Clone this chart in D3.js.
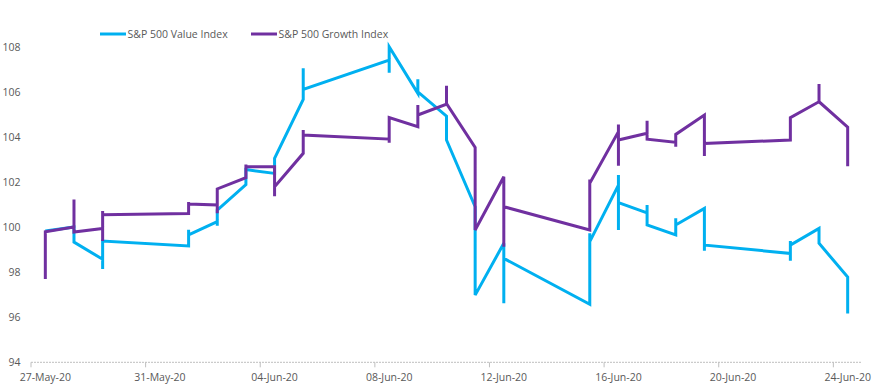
<!DOCTYPE html>
<html>
<head>
<meta charset="utf-8">
<script src="https://cdn.jsdelivr.net/npm/d3@7"></script>
<style>
  html, body { margin: 0; padding: 0; background: #fff; }
  svg { display: block; }
  text { font-family: "Open Sans", "Noto Sans", sans-serif; fill: #595959; }
</style>
</head>
<body>
<svg id="chart" width="883" height="391"></svg>
<script>
// ---- data (several intraday readings share one date) ----
const dates = ["2020-05-27","2020-05-28","2020-05-29","2020-06-01","2020-06-02","2020-06-03","2020-06-04",
  "2020-06-05","2020-06-08","2020-06-09","2020-06-10","2020-06-11","2020-06-12","2020-06-15","2020-06-16",
  "2020-06-17","2020-06-18","2020-06-19","2020-06-22","2020-06-23","2020-06-24"];

const valueIndex = [
  [99.82], [100.0, 99.33], [98.57, 98.14, 99.38], [99.16, 99.88, 99.65], [100.24, 100.06, 100.75],
  [101.88, 102.55], [102.38, 103.05], [105.66, 107.04, 106.11], [107.41, 106.84, 108.0],
  [105.93, 106.56, 106.0], [104.92, 103.86], [100.9, 96.98], [99.28, 96.62, 98.61],
  [96.57, 99.72, 99.35], [101.86, 102.31, 99.87, 101.08], [100.63, 100.98, 100.09],
  [99.65, 100.39, 100.09], [100.83, 98.95, 99.2], [98.83, 98.51, 99.38, 99.2],
  [99.94, 99.28], [97.78, 96.17]
];

const growthIndex = [
  [97.69, 99.79], [100.0, 101.22, 99.78], [99.94, 99.38, 100.71, 100.55], [100.6, 101.11, 101.02],
  [100.98, 100.61, 101.69], [102.19, 102.77, 102.67], [102.67, 101.37, 101.79],
  [103.27, 104.3, 104.08], [103.9, 103.74, 104.86], [104.45, 105.41, 104.97],
  [105.45, 106.27, 105.48], [103.53, 99.87], [102.23, 99.13, 100.9],
  [99.87, 102.11, 101.94], [104.23, 104.55, 102.72, 103.86], [104.16, 104.71, 103.9],
  [103.76, 103.56, 104.11], [104.97, 103.15, 103.71], [103.86, 104.85],
  [105.56, 106.34, 105.56], [104.43, 102.7]
];

const seriesNames = ["S&P 500 Value Index", "S&P 500 Growth Index"];
const seriesColors = ["#00B0F0", "#7030A0"];
const yTicks = [94, 96, 98, 100, 102, 104, 106, 108];
const xTickDates = ["2020-05-27","2020-05-31","2020-06-04","2020-06-08","2020-06-12","2020-06-16","2020-06-20","2020-06-24"];
const axisStart = "2020-05-27", axisEnd = "2020-06-25";

// ---- chart ----
const FS = 10.5;
const parse = d3.utcParse("%Y-%m-%d");
const fmt = d3.utcFormat("%d-%b-%y");
const halfDay = 12 * 3600 * 1000;

const svg = d3.select("#chart");
const x = d3.scaleUtc().domain([parse(axisStart), parse(axisEnd)]).range([31, 862]);
const y = d3.scaleLinear().domain([94, 108]).range([362.3, 46.7]);

// y axis labels (no line)
const yAxis = d3.axisLeft(y).tickValues(yTicks).tickSize(0).tickPadding(0).tickFormat(d3.format("d"));
svg.append("g").attr("transform", "translate(20.5,0)").call(yAxis)
  .call(g => g.select(".domain").remove())
  .call(g => g.selectAll("text").attr("font-size", FS).style("font-family", "'Open Sans', sans-serif").attr("fill", "#595959"));

// x axis line + tick marks at day boundaries
const xg = svg.append("g");
xg.append("line").attr("x1", x.range()[0]).attr("x2", x.range()[1])
  .attr("y1", y(94)).attr("y2", y(94))
  .attr("stroke", "#bfbfbf").attr("stroke-width", 1).attr("stroke-dasharray", "2,1");
xg.selectAll("line.tk").data(xTickDates).join("line").attr("class", "tk")
  .attr("x1", d => x(parse(d))).attr("x2", d => x(parse(d)))
  .attr("y1", y(94)).attr("y2", y(94) + 5)
  .attr("stroke", "#bfbfbf").attr("stroke-width", 1);
xg.selectAll("text.tl").data(xTickDates).join("text").attr("class", "tl")
  .attr("x", d => x(new Date(+parse(d) + halfDay)))
  .attr("y", 377).attr("dy", "0.35em")
  .attr("text-anchor", "middle").attr("font-size", FS)
  .text(d => fmt(parse(d)));

// lines
function flatten(vals) {
  const pts = [];
  vals.forEach((arr, i) => {
    const t = new Date(+parse(dates[i]) + halfDay);
    arr.forEach(v => pts.push({ t, v }));
  });
  return pts;
}
const line = d3.line().x(d => x(d.t)).y(d => y(d.v));
[valueIndex, growthIndex].forEach((vals, k) => {
  svg.append("path").datum(flatten(vals))
    .attr("fill", "none").attr("stroke", seriesColors[k]).attr("stroke-width", 3)
    .attr("stroke-linejoin", "miter").attr("stroke-miterlimit", 4)
    .attr("d", line);
});

// legend
const legendX = [100, 251];
seriesNames.forEach((name, k) => {
  const g = svg.append("g").attr("transform", `translate(${legendX[k]},34)`);
  g.append("line").attr("x1", 0).attr("x2", 26).attr("y1", 0).attr("y2", 0)
    .attr("stroke", seriesColors[k]).attr("stroke-width", 3);
  g.append("text").attr("x", 27.5).attr("y", 0).attr("dy", "0.35em")
    .attr("font-size", FS).text(name);
});
</script>
</body>
</html>
